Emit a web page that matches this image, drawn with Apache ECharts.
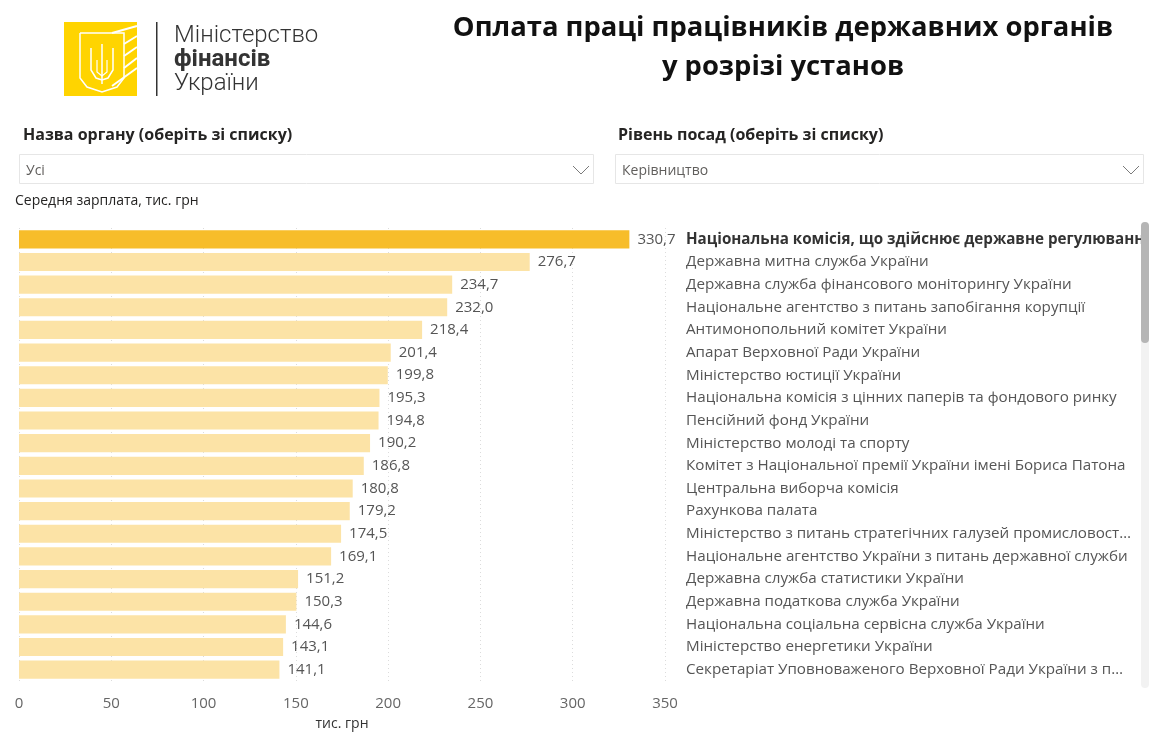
<!DOCTYPE html>
<html><head><meta charset="utf-8">
<script src="https://cdn.jsdelivr.net/npm/echarts@6/dist/echarts.min.js"></script>
<style>html,body{margin:0;padding:0;background:#fff}#c{width:1155px;height:732px}</style>
</head><body><div id="c"></div>
<script>
const categories = [
  "Національна комісія, що здійснює державне регулювання у сферах енергетики та комунальних послуг",
  "Державна митна служба України",
  "Державна служба фінансового моніторингу України",
  "Національне агентство з питань запобігання корупції",
  "Антимонопольний комітет України",
  "Апарат Верховної Ради України",
  "Міністерство юстиції України",
  "Національна комісія з цінних паперів та фондового ринку",
  "Пенсійний фонд України",
  "Міністерство молоді та спорту",
  "Комітет з Національної премії України імені Бориса Патона",
  "Центральна виборча комісія",
  "Рахункова палата",
  "Міністерство з питань стратегічних галузей промисловості України",
  "Національне агентство України з питань державної служби",
  "Державна служба статистики України",
  "Державна податкова служба України",
  "Національна соціальна сервісна служба України",
  "Міністерство енергетики України",
  "Секретаріат Уповноваженого Верховної Ради України з прав людини"
];
const values = [330.7, 276.7, 234.7, 232.0, 218.4, 201.4, 199.8, 195.3, 194.8, 190.2, 186.8, 180.8, 179.2, 174.5, 169.1, 151.2, 150.3, 144.6, 143.1, 141.1];
const highlightIndex = 0;
const titleLines = ["Оплата праці працівників державних органів", "у розрізі установ"];
const slicer1 = {label: "Назва органу (оберіть зі списку)", value: "Усі"};
const slicer2 = {label: "Рівень посад (оберіть зі списку)", value: "Керівництво"};
const yAxisTitle = "Середня зарплата, тис. грн";
const xAxisName = "тис. грн";

const FONT = "'Open Sans', 'DejaVu Sans', sans-serif";
const LABEL_PX = 15.2;
const chart = echarts.init(document.getElementById('c'), null, {renderer: 'canvas'});

// text fitting helper (measures with canvas)
const mctx = document.createElement('canvas').getContext('2d');
function fit(text, font, maxW, ell) {
  mctx.font = font;
  if (mctx.measureText(text).width <= maxW) return text;
  let s = text;
  while (s.length > 1 && mctx.measureText(s + ell).width > maxW) s = s.slice(0, -1);
  return s.replace(/\s+$/, '') + ell;
}
const normalFont = LABEL_PX + "px 'Open Sans'";
const boldFont = "bold " + LABEL_PX + "px 'Open Sans'";

const yData = categories.map((c, i) => i === highlightIndex
  ? {value: c, textStyle: {fontWeight: 'bold', color: '#333'}}
  : {value: c});

const barData = values.map((v, i) => ({
  value: v,
  itemStyle: {color: i === highlightIndex ? '#F7BD2A' : '#FCE3A6'}
}));

function chevron(x, y) {
  return {type: 'polyline', shape: {points: [[x, y], [x + 8, y + 8], [x + 16, y]]},
    style: {stroke: '#7a7a7a', lineWidth: 1, fill: null}};
}

const graphics = [
  // logo
  {type: 'rect', shape: {x: 64, y: 22, width: 73, height: 74}, style: {fill: '#FFD400'}},
  {type: 'polyline', shape: {points: [[112, 33], [137, 26]]}, style: {stroke: '#fff', lineWidth: 2}},
  {type: 'polyline', shape: {points: [[124, 44], [137, 36]]}, style: {stroke: '#fff', lineWidth: 2}},
  {type: 'polyline', shape: {points: [[124, 56], [137, 47]]}, style: {stroke: '#fff', lineWidth: 2}},
  {type: 'polyline', shape: {points: [[124, 68], [137, 58]]}, style: {stroke: '#fff', lineWidth: 2}},
  {type: 'polyline', shape: {points: [[112, 86], [137, 68]]}, style: {stroke: '#fff', lineWidth: 2}},
  {type: 'polyline', shape: {points: [[80, 33], [124, 33], [124, 78], [117, 87], [102, 92], [87, 87], [80, 78], [80, 33]]},
    style: {stroke: '#fff', lineWidth: 1.5, fill: null}},
  {type: 'polyline', shape: {points: [[102, 44], [102, 84]]}, style: {stroke: '#fff', lineWidth: 1.5}},
  {type: 'polyline', shape: {points: [[91, 48], [91, 70], [96, 78], [102, 80], [108, 78], [113, 70], [113, 48]]},
    style: {stroke: '#fff', lineWidth: 1.5, fill: null}},
  {type: 'polyline', shape: {points: [[97, 60], [97, 72], [102, 76], [107, 72], [107, 60]]},
    style: {stroke: '#fff', lineWidth: 1.2, fill: null}},
  {type: 'rect', shape: {x: 156, y: 22, width: 1.5, height: 74}, style: {fill: '#333'}},
  {type: 'text', x: 174, y: 36, style: {text: 'Міністерство', font: '300 24px Roboto, sans-serif', fill: '#333', verticalAlign: 'middle'}},
  {type: 'text', x: 174, y: 60, style: {text: 'фінансів', font: 'bold 24px Roboto, sans-serif', fill: '#333', verticalAlign: 'middle'}},
  {type: 'text', x: 174, y: 84, style: {text: 'України', font: '300 24px Roboto, sans-serif', fill: '#333', verticalAlign: 'middle'}},
  // title
  {type: 'text', x: 783, y: 28, style: {text: titleLines[0], font: "bold 27.4px 'Open Sans', sans-serif", fill: '#111', align: 'center', verticalAlign: 'middle'}},
  {type: 'text', x: 783, y: 67, style: {text: titleLines[1], font: "bold 27.4px 'Open Sans', sans-serif", fill: '#111', align: 'center', verticalAlign: 'middle'}},
  // slicers
  {type: 'text', x: 23, y: 135, style: {text: slicer1.label, font: "bold 16px 'Open Sans', sans-serif", fill: '#252423', verticalAlign: 'middle'}},
  {type: 'rect', shape: {x: 19.5, y: 154.5, width: 574, height: 29}, style: {fill: '#fff', stroke: '#e6e6e6', lineWidth: 1}},
  {type: 'text', x: 26, y: 171, style: {text: slicer1.value, font: "14px 'Open Sans', sans-serif", fill: '#605e5c', verticalAlign: 'middle'}},
  chevron(573, 166),
  {type: 'text', x: 618, y: 135, style: {text: slicer2.label, font: "bold 16px 'Open Sans', sans-serif", fill: '#252423', verticalAlign: 'middle'}},
  {type: 'rect', shape: {x: 615.5, y: 154.5, width: 528, height: 29}, style: {fill: '#fff', stroke: '#e6e6e6', lineWidth: 1}},
  {type: 'text', x: 622, y: 171, style: {text: slicer2.value, font: "14px 'Open Sans', sans-serif", fill: '#605e5c', verticalAlign: 'middle'}},
  chevron(1123, 166),
  {type: 'text', x: 15, y: 201, style: {text: yAxisTitle, font: "14px 'Open Sans', sans-serif", fill: '#252423', verticalAlign: 'middle'}},
  // scrollbar
  {type: 'rect', shape: {x: 1141, y: 222, width: 8, height: 466, r: 4}, style: {fill: '#f2f2f2'}, z: 10},
  {type: 'rect', shape: {x: 1141, y: 222, width: 8, height: 121, r: 4}, style: {fill: '#b5b5b5'}, z: 11}
];

chart.setOption({
  animation: false,
  textStyle: {fontFamily: FONT},
  grid: {left: 19, right: 490, top: 228, bottom: 51, containLabel: false, outerBoundsMode: 'none'},
  xAxis: {
    type: 'value', min: 0, max: 350, interval: 50,
    axisLine: {show: false}, axisTick: {show: false},
    splitLine: {show: true, lineStyle: {color: '#dcdcdc', type: [1, 3], width: 1}},
    axisLabel: {color: '#666', fontSize: 15, margin: 15, fontFamily: FONT},
    name: xAxisName, nameLocation: 'middle', nameGap: 36,
    nameTextStyle: {color: '#333', fontSize: 14, fontFamily: FONT}
  },
  yAxis: {
    type: 'category', inverse: true, position: 'right',
    data: yData,
    axisLine: {show: false}, axisTick: {show: false},
    axisLabel: {color: '#555', fontSize: LABEL_PX, margin: 21, fontFamily: FONT,
      formatter: (v, i) => i === highlightIndex ? fit(v, boldFont, 462, '') : fit(v, normalFont, 446, '…')}
  },
  series: [{
    type: 'bar', data: barData, barCategoryGap: '20%',
    label: {show: true, position: 'right', distance: 8, color: '#555', fontSize: 15, fontFamily: FONT,
      formatter: p => p.value.toFixed(1).replace('.', ',')}
  }],
  graphic: graphics
});
</script></body></html>
